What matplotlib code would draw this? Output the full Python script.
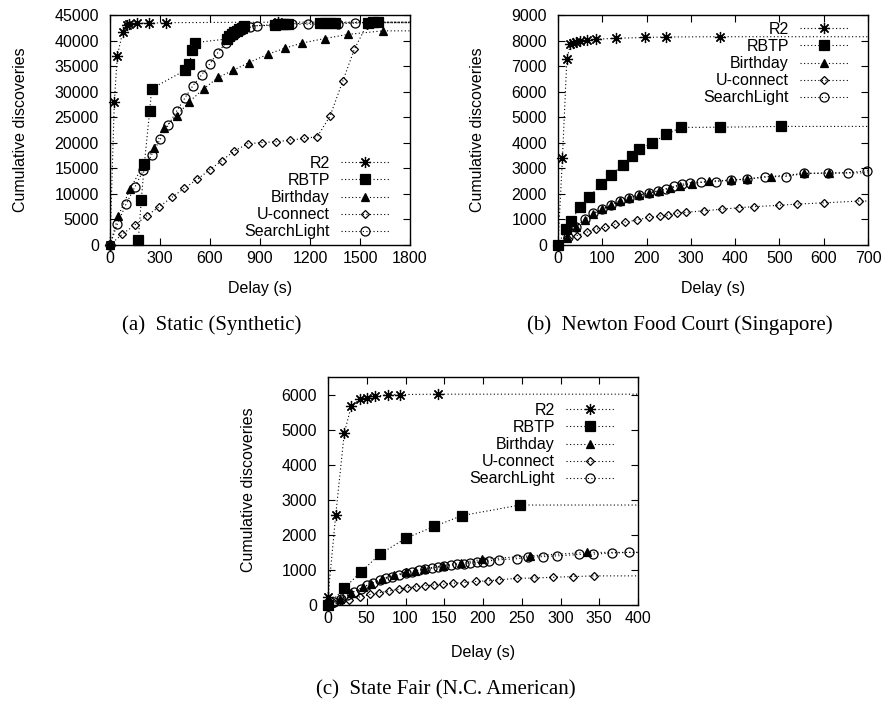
import matplotlib
matplotlib.use("Agg")
import matplotlib.pyplot as plt

plt.rcParams['font.family'] = ['Liberation Sans', 'DejaVu Sans']

# ---------------- data ----------------
names = ["R2", "RBTP", "Birthday", "U-connect", "SearchLight"]

# (a) Static (Synthetic)
a_r2_x = [0, 26, 44, 76, 100, 116, 160, 236, 334, 1006]
a_r2_y = [0, 28000, 37000, 41700, 43100, 43300, 43400, 43400, 43500, 43600]
a_rbtp_x = [170, 188, 206, 238, 250, 452, 476, 494, 512, 700, 715, 730, 745, 760,
            775, 790, 805, 990, 1010, 1030, 1050, 1070, 1260, 1290, 1320, 1350,
            1550, 1580, 1610]
a_rbtp_y = [1000, 8900, 15800, 26200, 30600, 34200, 35500, 38100, 39600, 40300,
            40800, 41200, 41600, 41900, 42200, 42500, 42800, 43100, 43200, 43200,
            43300, 43300, 43400, 43400, 43500, 43500, 43500, 43600, 43600]
a_bday_x = [0, 50, 120, 195, 264, 324, 400, 474, 564, 650, 740, 834, 946, 1048,
            1150, 1290, 1426, 1636]
a_bday_y = [0, 5700, 10900, 15400, 19000, 22800, 25300, 28000, 30600, 32800, 34200,
            35700, 37300, 38500, 39500, 40400, 41200, 41900]
a_uc_x = [0, 73, 148, 220, 296, 370, 446, 523, 598, 670, 746, 826, 912, 995, 1078,
          1164, 1244, 1320, 1396, 1466, 1540, 1590]
a_uc_y = [0, 2100, 3900, 5700, 7500, 9300, 11100, 12850, 14700, 16500, 18400, 19800,
          20050, 20200, 20500, 20850, 21200, 25200, 32000, 38300, 43000, 43500]
a_sl_x = [0, 44, 96, 150, 200, 250, 302, 350, 400, 450, 496, 550, 600, 646, 694, 744,
          792, 840, 884, 984, 1090, 1190, 1366, 1472, 1570]
a_sl_y = [0, 4100, 8000, 11400, 14600, 17700, 20700, 23500, 26200, 28800, 31100,
          33300, 35500, 37600, 39500, 41000, 42100, 42600, 42900, 43000, 43200,
          43200, 43300, 43400, 43500]

# (b) Newton Food Court (Singapore)
b_r2_x = [0, 10, 20, 28, 33, 40, 50, 66, 85, 132, 196, 244, 366]
b_r2_y = [0, 3390, 7260, 7850, 7890, 7930, 7970, 8020, 8050, 8090, 8120, 8140, 8150]
b_rbtp_x = [0, 17, 30, 49, 70, 96, 120, 147, 166, 183, 212, 244, 278, 366, 504]
b_rbtp_y = [0, 610, 950, 1470, 1860, 2370, 2740, 3130, 3490, 3740, 3980, 4330, 4600,
            4610, 4640]
b_bday_x = [0, 20, 40, 60, 80, 100, 120, 140, 160, 182, 205, 228, 252, 275, 302, 342,
            391, 427, 480, 556, 612]
b_bday_y = [0, 280, 700, 990, 1230, 1390, 1560, 1720, 1850, 1950, 2040, 2130, 2220,
            2310, 2400, 2500, 2540, 2580, 2680, 2800, 2820]
b_uc_x = [0, 20, 42, 65, 86, 106, 129, 151, 178, 206, 230, 249, 269, 289, 330, 370,
          409, 443, 498, 539, 601, 680]
b_uc_y = [0, 260, 365, 500, 610, 690, 810, 890, 980, 1080, 1130, 1170, 1240, 1280,
          1340, 1400, 1460, 1500, 1550, 1600, 1650, 1720]
b_sl_x = [0, 22, 41, 61, 80, 100, 119, 140, 161, 184, 206, 226, 244, 262, 281, 298,
          324, 357, 390, 427, 467, 514, 556, 610, 655, 697]
b_sl_y = [0, 300, 720, 1000, 1240, 1400, 1560, 1720, 1850, 1960, 2040, 2110, 2200,
          2300, 2380, 2440, 2460, 2480, 2540, 2580, 2670, 2680, 2800, 2810, 2830, 2900]

# (c) State Fair (N.C. American)
c_r2_x = [0, 10, 21, 30, 41, 50, 61, 78, 93, 142]
c_r2_y = [230, 2570, 4900, 5670, 5860, 5910, 5950, 6000, 6000, 6010]
c_rbtp_x = [0, 21, 42, 67, 100, 137, 173, 248]
c_rbtp_y = [0, 480, 930, 1450, 1900, 2240, 2550, 2850]
c_bday_x = [0, 15, 30, 45, 55, 70, 85, 100, 112, 124, 148, 172, 199, 260, 334]
c_bday_y = [0, 170, 340, 500, 600, 750, 850, 930, 980, 1030, 1120, 1210, 1300, 1400,
            1500]
c_uc_x = [0, 8, 17, 27, 41, 54, 66, 79, 91, 102, 114, 125, 137, 149, 161, 175, 191,
          206, 221, 244, 266, 290, 316, 343]
c_uc_y = [0, 50, 100, 150, 230, 300, 350, 400, 450, 490, 520, 550, 570, 590, 620, 640,
          670, 690, 720, 760, 770, 790, 810, 830]
c_sl_x = [0, 8, 17, 25, 33, 42, 50, 58, 67, 75, 83, 92, 100, 108, 117, 125, 134, 142,
          150, 159, 167, 175, 183, 192, 200, 208, 221, 244, 258, 278, 295, 324, 342,
          367, 388]
c_sl_y = [0, 80, 180, 280, 380, 470, 560, 630, 700, 760, 810, 860, 910, 950, 990, 1020,
          1050, 1080, 1110, 1130, 1160, 1180, 1200, 1220, 1240, 1260, 1290, 1320, 1360,
          1380, 1400, 1440, 1450, 1480, 1500]

# ---------------- styling ----------------
W, H = 889, 704
fig = plt.figure(figsize=(W / 100, H / 100), dpi=100)

FS = 11.5
styles = {
    "R2": dict(marker=(8, 2, 0), ms=8, mfc='black', mec='black'),
    "RBTP": dict(marker='s', ms=7, mfc='black', mec='black'),
    "Birthday": dict(marker='^', ms=6, mfc='black', mec='black'),
    "U-connect": dict(marker='D', ms=4.3, mfc='none', mec='black'),
    "SearchLight": dict(marker='o', ms=6.5, mfc='none', mec='black'),
}


def px_axes(l, t, r, b):
    return fig.add_axes([l / W, 1 - b / H, (r - l) / W, (b - t) / H])


def draw_series(ax, x, y, name, xmax):
    # the curve holds its final value out to the right edge of the plot
    xs = list(x) + [xmax]
    ys = list(y) + [y[-1]]
    st = styles[name]
    ax.plot(xs, ys, color='black', lw=0.8, linestyle=(0, (1, 2.2)),
            marker=st['marker'], markersize=st['ms'], markerfacecolor=st['mfc'],
            markeredgecolor=st['mec'], markeredgewidth=0.9,
            markevery=list(range(len(x))), label=name, clip_on=False, zorder=3)


def panel(box, series, xlim, xticks, ylim, yticks, legend_anchor):
    ax = px_axes(*box)
    for name, (x, y) in zip(names, series):
        draw_series(ax, x, y, name, xlim[1])
    ax.set_xlim(*xlim)
    ax.set_ylim(*ylim)
    ax.set_xticks(xticks)
    ax.set_yticks(yticks)
    ax.tick_params(direction='in', top=True, right=True, length=5, width=0.8,
                   labelsize=FS)
    ax.tick_params(axis='x', pad=4)
    ax.tick_params(axis='y', pad=8)
    for sp in ax.spines.values():
        sp.set_linewidth(1.0)
    ax.legend(loc='upper right',
              bbox_to_anchor=(legend_anchor[0] / W, 1 - legend_anchor[1] / H),
              bbox_transform=fig.transFigure, frameon=False, markerfirst=False,
              fontsize=FS, borderpad=0, borderaxespad=0, handlelength=3.0,
              handletextpad=0.7, labelspacing=0.13)
    return ax


panel((110, 15, 410, 245),
      [(a_r2_x, a_r2_y), (a_rbtp_x, a_rbtp_y), (a_bday_x, a_bday_y),
       (a_uc_x, a_uc_y), (a_sl_x, a_sl_y)],
      (0, 1800), range(0, 1801, 300), (0, 45000), range(0, 45001, 5000),
      (389, 156))

panel((558, 15, 868, 245),
      [(b_r2_x, b_r2_y), (b_rbtp_x, b_rbtp_y), (b_bday_x, b_bday_y),
       (b_uc_x, b_uc_y), (b_sl_x, b_sl_y)],
      (0, 700), range(0, 701, 100), (0, 9000), range(0, 9001, 1000),
      (848, 22))

panel((328, 377, 638, 605),
      [(c_r2_x, c_r2_y), (c_rbtp_x, c_rbtp_y), (c_bday_x, c_bday_y),
       (c_uc_x, c_uc_y), (c_sl_x, c_sl_y)],
      (0, 400), range(0, 401, 50), (0, 6500), range(0, 6001, 1000),
      (614, 403))

# axis titles and sub-captions
def ftext(x, y, s, **kw):
    fig.text(x / W, 1 - y / H, s, ha='center', va='center', **kw)

ftext(21, 130, "Cumulative discoveries", rotation=90, fontsize=FS)
ftext(477, 130, "Cumulative discoveries", rotation=90, fontsize=FS)
ftext(248, 490, "Cumulative discoveries", rotation=90, fontsize=FS)

ftext(260, 288, "Delay (s)", fontsize=FS)
ftext(713, 288, "Delay (s)", fontsize=FS)
ftext(483, 653, "Delay (s)", fontsize=FS)

serif = ['Liberation Serif', 'DejaVu Serif']
ftext(212, 325, "(a)  Static (Synthetic)", fontsize=15, family=serif)
ftext(680, 325, "(b)  Newton Food Court (Singapore)", fontsize=15, family=serif)
ftext(446, 690, "(c)  State Fair (N.C. American)", fontsize=15, family=serif)

fig.savefig("out.png", dpi=100)
